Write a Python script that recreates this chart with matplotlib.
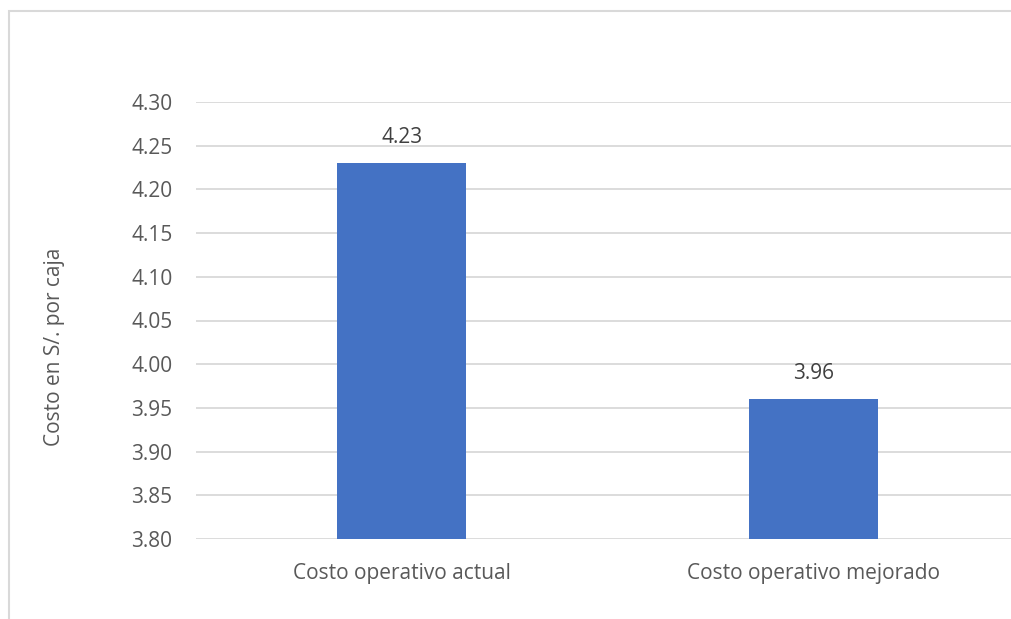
import matplotlib.pyplot as plt
from matplotlib.patches import Rectangle

categorias = ["Costo operativo actual", "Costo operativo mejorado"]
costos = [4.23, 3.96]
marcas_y = [3.80, 3.85, 3.90, 3.95, 4.00, 4.05, 4.10, 4.15, 4.20, 4.25, 4.30]

gris = "#595959"
plt.rcParams['font.family'] = ['Open Sans', 'DejaVu Sans']

fig = plt.figure(figsize=(10.11, 6.19), dpi=100)
W, H = 1011, 619

# marco exterior del grafico
fig.patches.append(Rectangle((9 / W, -0.1), 1.2, 1 - 11 / H + 0.1,
                             transform=fig.transFigure, fill=False,
                             edgecolor="#d9d9d9", linewidth=1.5))

ax = fig.add_axes([196 / W, 80 / H, 823 / W, 437 / H])
pos = [0, 1]
ax.bar(pos, costos, width=0.314, color="#4472c4", zorder=3)
ax.set_xlim(-0.5, 1.5)
ax.set_ylim(3.80, 4.30)
ax.set_yticks(marcas_y)
ax.set_yticklabels([f"{v:.2f}" for v in marcas_y])
ax.set_xticks(pos)
ax.set_xticklabels(categorias)
ax.grid(axis="y", color="#d9d9d9", linewidth=1.3, zorder=0)
for s in ax.spines.values():
    s.set_visible(False)
ax.tick_params(axis="both", length=0, labelsize=15, labelcolor=gris)
ax.tick_params(axis="y", pad=17)
ax.tick_params(axis="x", pad=17)
ax.set_ylabel("Costo en S/. por caja", fontsize=15, color=gris)
ax.yaxis.set_label_coords(-131 / 823, 0.44)

for x, v in zip(pos, costos):
    ax.annotate(f"{v:.2f}", (x, v), xytext=(0, 11), textcoords="offset points",
                ha="center", va="bottom", fontsize=15, color="#404040")

fig.savefig("out.png", dpi=100)
